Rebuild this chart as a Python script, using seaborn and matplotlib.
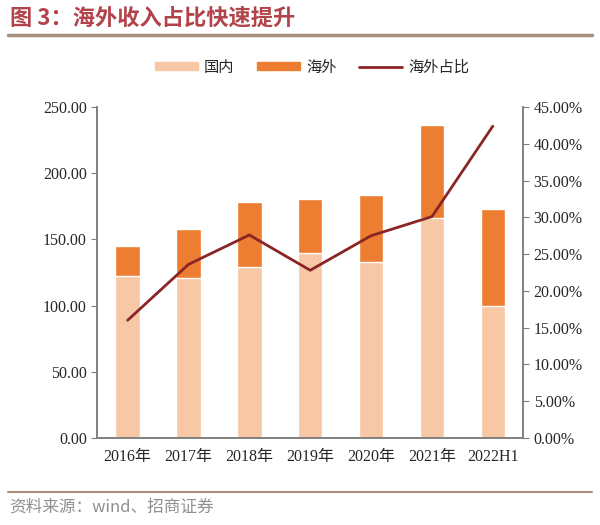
import numpy as np
import pandas as pd
import matplotlib
matplotlib.use('Agg')
import matplotlib.pyplot as plt
import seaborn as sns
from matplotlib.lines import Line2D
from matplotlib.patches import Patch

# data
years = ['2016年', '2017年', '2018年', '2019年', '2020年', '2021年', '2022H1']
domestic = [122.4, 120.6, 129.4, 139.5, 133.2, 165.9, 99.7]
total = [145.0, 157.6, 178.0, 180.3, 183.3, 236.4, 172.7]
overseas_share = [16.0, 23.6, 27.6, 22.8, 27.5, 30.1, 42.4]

df = pd.DataFrame({'year': years, 'domestic': domestic, 'total': total,
                   'share': overseas_share})

sns.set_style('white')
plt.rcParams['font.family'] = ['Liberation Serif', 'Noto Sans CJK SC', 'DejaVu Sans']

c_dom = '#F8C8A6'
c_ovs = '#ED7D31'
c_line = '#8B2525'
c_axis = '#808080'

fig = plt.figure(figsize=(6, 5.25), dpi=100)
ax = fig.add_axes([0.162, 0.166, 0.710, 0.630])

# stacked bars: total in orange, domestic drawn over it
sns.barplot(data=df, x='year', y='total', color=c_ovs, saturation=1,
            width=0.4, ax=ax)
sns.barplot(data=df, x='year', y='domestic', color=c_dom, saturation=1,
            width=0.4, ax=ax)

ax2 = ax.twinx()
sns.lineplot(x=np.arange(len(years)), y=df['share'], color=c_line,
             linewidth=2, ax=ax2)

ax.set_xlim(-0.5, len(years) - 0.5)
ax.set_ylim(0, 250)
ax2.set_ylim(0, 45)
ax.set_yticks(np.arange(0, 251, 50))
ax.set_yticklabels([f'{v:.2f}' for v in np.arange(0, 251, 50)])
ax2.set_yticks(np.arange(0, 46, 5))
ax2.set_yticklabels([f'{v:.2f}%' for v in np.arange(0, 46, 5)])
ax.set_xlabel('')
ax.set_ylabel('')
ax2.set_ylabel('')

# x ticks between categories, labels at centers
ax.set_xticks(np.arange(len(years)))
ax.set_xticklabels(years, fontsize=11.5)
ax.set_xticks(np.arange(-0.5, len(years)), minor=True)
ax.tick_params(axis='x', which='major', length=0, pad=8)
ax.tick_params(axis='x', which='minor', length=4, color=c_axis, direction='inout')
ax.tick_params(axis='y', length=4, color=c_axis, labelsize=11.5, direction='out')
ax2.tick_params(axis='y', length=4, color=c_axis, labelsize=11.5, direction='out')

for a in (ax, ax2):
    a.spines['top'].set_visible(False)
    for s in ('left', 'right', 'bottom'):
        a.spines[s].set_color(c_axis)
        a.spines[s].set_linewidth(1.2)

handles = [Patch(color=c_dom, label='国内'),
           Patch(color=c_ovs, label='海外'),
           Line2D([0], [0], color=c_line, lw=2, label='海外占比')]
fig.legend(handles=handles, loc='center', bbox_to_anchor=(0.52, 0.872), ncol=3,
           frameon=False, handlelength=2.8, handleheight=0.45, handletextpad=0.4,
           columnspacing=1.5, prop={'family': ['Noto Sans CJK SC'], 'size': 11})

# title and source
fig.text(0.017, 0.965, '图 3：海外收入占比快速提升', fontsize=16, fontweight='semibold',
         color='#B3434A', family=['Noto Sans CJK SC', 'DejaVu Sans'], va='center')
fig.add_artist(Line2D([0.013, 0.987], [0.933, 0.933], color='#A89080', lw=2.5))
fig.add_artist(Line2D([0.013, 0.987], [0.063, 0.063], color='#A89080', lw=1.5))
fig.text(0.015, 0.035, '资料来源：wind、招商证券', fontsize=12, color='#909090',
         family=['Noto Sans CJK SC', 'DejaVu Sans'], va='center')

fig.savefig('out.png', dpi=100)
